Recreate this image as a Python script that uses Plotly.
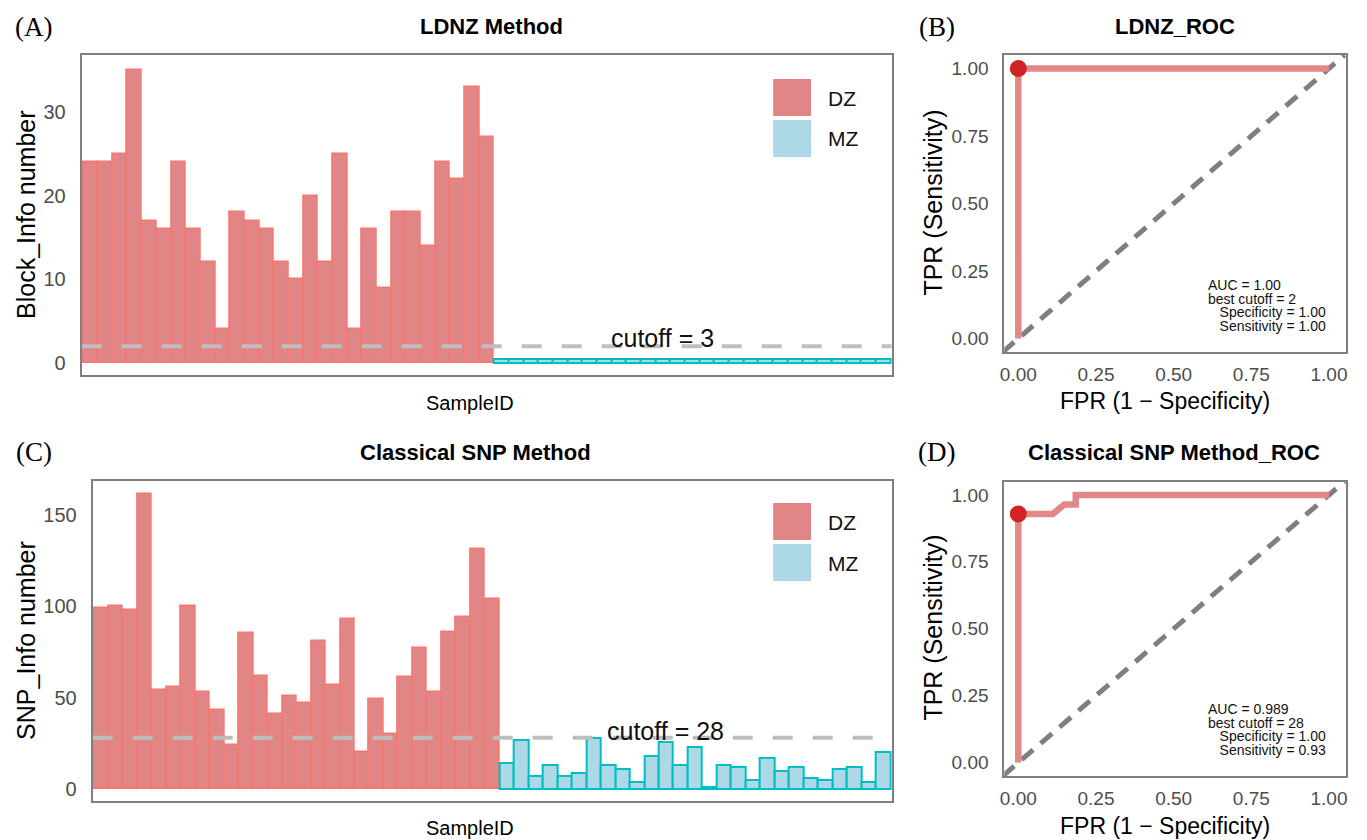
import plotly.graph_objects as go

W, H = 1367, 840

# ---------------- data ----------------
ldnz_dz = [24, 24, 25, 35, 17, 16, 24, 16, 12, 4, 18, 17, 16, 12, 10, 20, 12, 25, 4, 16,
           9, 18, 18, 14, 24, 22, 33, 27]
ldnz_mz = [0.5, 0.5, 0.5, 0.5, 0.5, 0.5, 0.5, 0.5, 0.5, 0.5, 0.5, 0.5, 0.5, 0.5, 0.5,
           0.5, 0.5, 0.5, 0.5, 0.5, 0.5, 0.5, 0.5, 0.5, 0.5, 0.5, 0.5]
snp_dz = [99, 100, 98, 161, 54, 56, 100, 53, 43, 24, 85, 62, 41, 51, 47, 81, 57, 93, 20, 49,
          30, 61, 77, 53, 86, 94, 131, 104]
snp_mz = [14, 27, 7, 13, 7, 9, 28, 13, 11, 4, 18, 26, 13, 23, 1, 13, 12, 5, 17, 10,
          12, 6, 5, 11, 12, 4, 20]

ldnz_cut_line, ldnz_cut_label = 2, "cutoff = 3"
snp_cut_line, snp_cut_label = 28, "cutoff = 28"

ldnz_fpr = [0, 0, 1]
ldnz_tpr = [0, 1, 1]
ldnz_best = (0, 1.0)
snp_fpr = [0, 0, 0.111, 0.148, 0.185, 0.185, 1]
snp_tpr = [0, 0.929, 0.929, 0.964, 0.964, 1, 1]
snp_best = (0, 0.929)

ldnz_stats = ["AUC = 1.00", "best cutoff = 2", "Specificity = 1.00", "Sensitivity = 1.00"]
snp_stats = ["AUC = 0.989", "best cutoff = 28", "Specificity = 1.00", "Sensitivity = 0.93"]

roc_ticks = [0, 0.25, 0.5, 0.75, 1.0]
roc_ticktext = ["0.00", "0.25", "0.50", "0.75", "1.00"]

# ---------------- styles ----------------
SANS = "Liberation Sans, Arial, sans-serif"
SERIF = "Liberation Serif, Times New Roman, serif"
DZ_FILL, DZ_LINE = "#E08686", "#F8766D"
MZ_FILL, MZ_LINE = "#ADD8E6", "#00BFC4"
ROC_COL = "#E38888"
PT_COL = "#D02424"
BORDER = "#7F7F7F"
TICKC = "#4D4D4D"


def px(x):
    return x / W


def py(y):
    return 1 - y / H


fig = go.Figure()

# bar panels
for (dz, mz, cut, lab, xa, ya, laby) in [
    (ldnz_dz, ldnz_mz, ldnz_cut_line, ldnz_cut_label, "x", "y", 3.0),
    (snp_dz, snp_mz, snp_cut_line, snp_cut_label, "x3", "y3", 32.0),
]:
    ndz = len(dz)
    ntot = ndz + len(mz)
    fig.add_trace(go.Bar(x=list(range(1, ndz + 1)), y=dz, width=1,
                         marker=dict(color=DZ_FILL, line=dict(color=DZ_LINE, width=1.5)),
                         xaxis=xa, yaxis=ya, showlegend=False))
    fig.add_trace(go.Bar(x=list(range(ndz + 1, ntot + 1)), y=mz, width=1,
                         marker=dict(color=MZ_FILL, line=dict(color=MZ_LINE, width=2)),
                         xaxis=xa, yaxis=ya, showlegend=False))
    fig.add_trace(go.Scatter(x=[0.4, ntot + 0.6], y=[cut, cut], mode="lines",
                             line=dict(color="#BEBEBE", width=4, dash="20px,20px"),
                             xaxis=xa, yaxis=ya, showlegend=False, hoverinfo="skip"))
    fig.add_annotation(x=40, y=laby, xref=xa, yref=ya, text=lab, showarrow=False,
                       font=dict(family=SANS, size=25, color="#111111"),
                       xanchor="center", yanchor="middle")

# ROC panels
for (fpr, tpr, best, xa, ya) in [
    (ldnz_fpr, ldnz_tpr, ldnz_best, "x2", "y2"),
    (snp_fpr, snp_tpr, snp_best, "x4", "y4"),
]:
    fig.add_trace(go.Scatter(x=[-0.05, 1.05], y=[-0.05, 1.05], mode="lines",
                             line=dict(color=BORDER, width=5, dash="15px,10px"),
                             xaxis=xa, yaxis=ya, showlegend=False, hoverinfo="skip"))
    fig.add_trace(go.Scatter(x=fpr, y=tpr, mode="lines",
                             line=dict(color=ROC_COL, width=6.5),
                             xaxis=xa, yaxis=ya, showlegend=False))
    fig.add_trace(go.Scatter(x=[best[0]], y=[best[1]], mode="markers",
                             marker=dict(color=PT_COL, size=17),
                             xaxis=xa, yaxis=ya, showlegend=False))

# ---------------- axes ----------------
common = dict(showgrid=False, zeroline=False, showline=True, mirror=True,
              linecolor=BORDER, linewidth=2)

dom_A = dict(x=[px(78), px(891)], y=[py(375), py(55)])
dom_B = dict(x=[px(1004), px(1347)], y=[py(352), py(55)])
dom_C = dict(x=[px(89), px(891)], y=[py(801), py(481)])
dom_D = dict(x=[px(1004), px(1347)], y=[py(776), py(481.5)])

bar_x = dict(common, range=[0.4, 55.6], showticklabels=False, ticks="")
bar_y_font = dict(family=SANS, size=20, color=TICKC)
roc_font = dict(family=SANS, size=19, color=TICKC)
roc_x = dict(common, range=[-0.045, 1.055], tickvals=roc_ticks, ticktext=roc_ticktext,
             ticks="outside", ticklen=4, tickcolor="rgba(0,0,0,0)", tickfont=roc_font)
roc_y = dict(common, range=[-0.05, 1.05], tickvals=roc_ticks, ticktext=roc_ticktext,
             ticks="outside", ticklen=10, tickcolor="rgba(0,0,0,0)", tickfont=roc_font)

fig.update_layout(
    xaxis=dict(bar_x, domain=dom_A["x"], anchor="y"),
    yaxis=dict(common, domain=dom_A["y"], anchor="x", range=[-1.45, 36.8],
               tickvals=[0, 10, 20, 30], ticks="outside", ticklen=10,
               tickcolor="rgba(0,0,0,0)", tickfont=bar_y_font),
    xaxis3=dict(bar_x, domain=dom_C["x"], anchor="y3"),
    yaxis3=dict(common, domain=dom_C["y"], anchor="x3", range=[-6.5, 168.3],
                tickvals=[0, 50, 100, 150], ticks="outside", ticklen=10,
                tickcolor="rgba(0,0,0,0)", tickfont=bar_y_font),
    xaxis2=dict(roc_x, domain=dom_B["x"], anchor="y2"),
    yaxis2=dict(roc_y, domain=dom_B["y"], anchor="x2"),
    xaxis4=dict(roc_x, domain=dom_D["x"], anchor="y4"),
    yaxis4=dict(roc_y, domain=dom_D["y"], anchor="x4"),
    width=W, height=H, margin=dict(l=0, r=0, t=0, b=0),
    paper_bgcolor="white", plot_bgcolor="white", bargap=0, barmode="overlay",
    showlegend=False,
)


def text(x, y, s, size, family=SANS, bold=False, angle=0, xanchor="center",
         color="#000000", align="center"):
    fig.add_annotation(x=px(x), y=py(y), xref="paper", yref="paper",
                       text=f"<b>{s}</b>" if bold else s, showarrow=False,
                       font=dict(family=family, size=size, color=color),
                       textangle=angle, xanchor=xanchor, yanchor="middle", align=align)


# panel labels & titles
text(30, 27, "(A)", 27, family=SERIF)
text(936, 27, "(B)", 27, family=SERIF)
text(30, 452, "(C)", 27, family=SERIF)
text(936, 452, "(D)", 27, family=SERIF)
text(489, 27, "LDNZ Method", 22, bold=True)
text(1175, 27, "LDNZ_ROC", 22, bold=True)
text(473, 452, "Classical SNP Method", 22, bold=True)
text(1174, 452, "Classical SNP Method_ROC", 22, bold=True)

# axis titles
text(468, 403, "SampleID", 20)
text(468, 828, "SampleID", 20)
text(22, 215, "Block_Info number", 25, angle=-90)
text(22, 640, "SNP_Info number", 25, angle=-90)
text(932, 203, "TPR (Sensitivity)", 25, angle=-90)
text(932, 628, "TPR (Sensitivity)", 25, angle=-90)
text(1165, 401, "FPR (1 \u2212 Specificity)", 23)
text(1165, 826, "FPR (1 \u2212 Specificity)", 23)

# ROC stats: one multi-line block (small base size sets tight line spacing)
for stats, yc in [(ldnz_stats, 305), (snp_stats, 729)]:
    lines = []
    for i, s in enumerate(stats):
        indent = "" if i < 2 else "&nbsp;&nbsp;&nbsp;&nbsp;"
        lines.append(f"{indent}<span style='font-size:14px'>{s}</span>")
    fig.add_annotation(x=px(1206), y=py(yc), xref="paper", yref="paper",
                       text="<br>".join(lines), showarrow=False,
                       font=dict(family=SANS, size=10.4, color="#111111"),
                       xanchor="left", yanchor="middle", align="left")

# manual legends
for top in (79, 503):
    fig.add_shape(type="rect", xref="paper", yref="paper", x0=px(772), x1=px(810),
                  y0=py(top + 37), y1=py(top), fillcolor=DZ_FILL, line=dict(width=0))
    fig.add_shape(type="rect", xref="paper", yref="paper", x0=px(772), x1=px(810),
                  y0=py(top + 78), y1=py(top + 41), fillcolor=MZ_FILL, line=dict(width=0))
    text(825, top + 19, "DZ", 21, xanchor="left", color="#111111")
    text(825, top + 60, "MZ", 21, xanchor="left", color="#111111")

fig.write_html(
    "out.html",
    config={"displayModeBar": False},
    post_script="document.body.style.margin='0';document.body.style.overflow='hidden';",
)
